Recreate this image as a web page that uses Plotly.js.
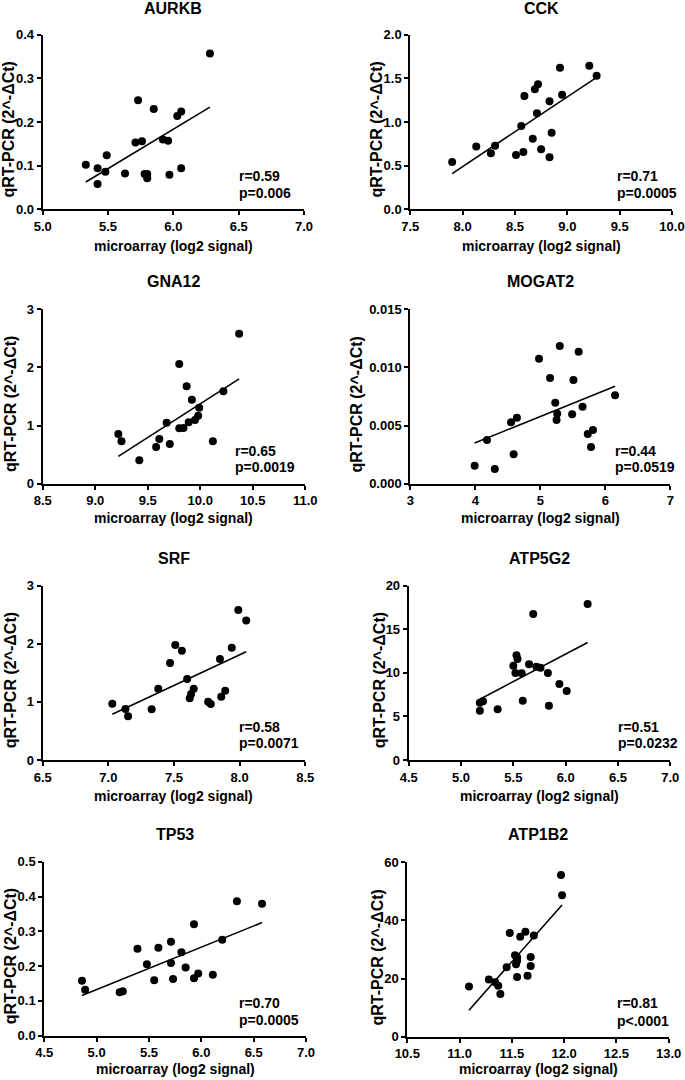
<!DOCTYPE html>
<html>
<head>
<meta charset="utf-8">
<script src="https://cdn.plot.ly/plotly-3.0.1.min.js"></script>
<style>
html,body{margin:0;padding:0;background:#fff;}
#chart{width:685px;height:1080px;}
</style>
</head>
<body>
<div id="chart"></div>
<script>
// ---------------- DATA ----------------
const genes = ['AURKB','CCK','GNA12','MOGAT2','SRF','ATP5G2','TP53','ATP1B2'];
const rLabels = ['r=0.59','r=0.71','r=0.65','r=0.44','r=0.58','r=0.51','r=0.70','r=0.81'];
const pLabels = ['p=0.006','p=0.0005','p=0.0019','p=0.0519','p=0.0071','p=0.0232','p=0.0005','p<.0001'];
const xAxisTitle = 'microarray (log2 signal)';
const yAxisTitle = 'qRT-PCR (2^-\u0394Ct)';

const aurkbX = [5.33,5.42,5.42,5.49,5.48,5.63,5.71,5.73,5.76,5.78,5.80,5.80,5.85,5.92,5.96,5.97,6.03,6.06,6.06,6.28];
const aurkbY = [0.102,0.094,0.058,0.124,0.086,0.082,0.153,0.250,0.156,0.081,0.081,0.071,0.230,0.160,0.157,0.079,0.214,0.224,0.094,0.357];

const cckX = [7.90,8.13,8.27,8.31,8.51,8.56,8.58,8.59,8.67,8.69,8.71,8.72,8.75,8.83,8.83,8.85,8.93,8.95,9.21,9.28];
const cckY = [0.542,0.718,0.641,0.729,0.622,0.954,0.656,1.298,0.809,1.374,1.099,1.431,0.687,0.595,1.237,0.878,1.622,1.313,1.645,1.531];

const gna12X = [9.22,9.25,9.42,9.58,9.61,9.68,9.71,9.80,9.80,9.84,9.87,9.89,9.92,9.95,9.98,9.99,10.12,10.22,10.37];
const gna12Y = [0.855,0.729,0.402,0.631,0.769,1.050,0.683,2.059,0.953,0.958,1.675,1.056,1.445,1.096,1.170,1.307,0.729,1.589,2.580];

const mogat2X = [3.99,4.18,4.30,4.55,4.64,4.59,4.98,5.15,5.23,5.26,5.25,5.30,5.49,5.51,5.59,5.65,5.73,5.81,5.78,6.15];
const mogat2Y = [0.00155,0.00376,0.00126,0.00528,0.00568,0.00253,0.01075,0.00909,0.00697,0.00602,0.00548,0.01184,0.00597,0.00892,0.01135,0.00662,0.00427,0.00462,0.00316,0.00760];

const srfX = [7.03,7.13,7.15,7.33,7.38,7.47,7.51,7.56,7.60,7.62,7.63,7.65,7.76,7.78,7.85,7.86,7.89,7.94,7.99,8.05];
const srfY = [0.969,0.878,0.751,0.872,1.228,1.669,1.979,1.881,1.394,1.061,1.136,1.228,1.004,0.964,1.738,1.090,1.193,1.933,2.581,2.403];

const atp5g2X = [5.18,5.18,5.21,5.35,5.50,5.52,5.53,5.54,5.58,5.59,5.65,5.69,5.72,5.76,5.83,5.84,5.94,6.01,6.21];
const atp5g2Y = [6.58,5.66,6.73,5.81,10.82,9.98,12.01,11.59,9.94,6.81,10.98,16.75,10.71,10.59,9.98,6.23,8.72,7.92,17.90];

const tp53X = [4.86,4.89,5.22,5.25,5.39,5.48,5.55,5.59,5.71,5.71,5.73,5.81,5.85,5.93,5.93,5.97,6.11,6.20,6.34,6.58];
const tp53Y = [0.158,0.132,0.125,0.128,0.250,0.205,0.159,0.253,0.270,0.209,0.163,0.240,0.196,0.320,0.165,0.179,0.175,0.276,0.386,0.379];

const atp1b2X = [11.09,11.28,11.34,11.37,11.39,11.45,11.48,11.53,11.55,11.55,11.54,11.55,11.58,11.63,11.65,11.68,11.68,11.71,11.97,11.98];
const atp1b2Y = [17.3,19.7,18.7,17.5,14.7,23.9,35.7,28.0,27.3,26.1,24.9,20.5,34.4,36.1,21.0,27.4,24.3,34.8,55.6,48.7];

const seriesX = [aurkbX,cckX,gna12X,mogat2X,srfX,atp5g2X,tp53X,atp1b2X];
const seriesY = [aurkbY,cckY,gna12Y,mogat2Y,srfY,atp5g2Y,tp53Y,atp1b2Y];

// axis ranges / tick spacing (scale definitions)
const xRanges = [[5,7],[7.5,10],[8.5,11],[3,7],[6.5,8.5],[4.5,7],[4.5,7],[10.5,13]];
const xDticks = [0.5,0.5,0.5,1,0.5,0.5,0.5,0.5];
const xFormats = ['.1f','.1f','.1f','d','.1f','.1f','.1f','.1f'];
const yRanges = [[0,0.4],[0,2],[0,3],[0,0.015],[0,3],[0,20],[0,0.5],[0,60]];
const yDticks = [0.1,0.5,1,0.005,1,5,0.1,20];
const yFormats = ['.1f','.1f','d','.3f','d','d','.1f','d'];

// ---------------- LAYOUT (pixels) ----------------
const W = 685, H = 1080;
// [left, right, top, bottom] of each plot area
const boxes = [
  [42.7,304,34.7,209.3],[410.3,672,34.7,209.3],
  [42.7,305.3,309.3,483.7],[410.3,670.3,309.3,483.7],
  [42.7,305.3,585.7,760],[408.7,670.3,585.7,760],
  [44.3,306,861.7,1035.7],[407.3,668.7,862.3,1036.7]
];
const titleY = [8.5,8.5,282,282,558.5,558.5,834,834];
const xTitleY = [246,246,518,518,796,796,1069,1069];
const yTitleX = [8.5,376.5,10.5,356,10.5,379.5,10.5,377];
const statPos = [ // left x, r centre y, p centre y
  [237.3,176,193],[615.3,176,193],
  [233.3,451,467.3],[612.7,451.3,467.3],
  [237.3,726.7,743.3],[616,727.3,743.3],
  [237.3,1002.7,1020],[615.3,1003.3,1020.7]
];

const FONT = '"Liberation Sans", Arial, Helvetica, sans-serif';
const fx = px => px / W;
const fy = py => 1 - py / H;

function linfit(xs, ys){
  const n = xs.length;
  let sx=0, sy=0; for(let i=0;i<n;i++){sx+=xs[i]; sy+=ys[i];}
  const mx=sx/n, my=sy/n;
  let sxy=0, sxx=0; for(let i=0;i<n;i++){sxy+=(xs[i]-mx)*(ys[i]-my); sxx+=(xs[i]-mx)*(xs[i]-mx);}
  const b = sxy/sxx, a = my - b*mx;
  const x0 = Math.min(...xs), x1 = Math.max(...xs);
  return {x:[x0,x1], y:[a+b*x0, a+b*x1]};
}

const traces = [];
const layout = {
  width: W, height: H,
  margin: {l:0,r:0,t:0,b:0,pad:0},
  paper_bgcolor: '#ffffff', plot_bgcolor: '#ffffff',
  showlegend: false,
  font: {family: FONT, color: '#000', size: 13},
  annotations: []
};

genes.forEach((g, i) => {
  const k = i === 0 ? '' : String(i+1);
  const xa = 'x'+k, ya = 'y'+k;
  const fit = linfit(seriesX[i], seriesY[i]);
  traces.push({
    type:'scatter', mode:'lines', x: fit.x, y: fit.y, xaxis: xa, yaxis: ya,
    line: {color:'#000', width:1.6}, hoverinfo:'skip'
  });
  traces.push({
    type:'scatter', mode:'markers', x: seriesX[i], y: seriesY[i], xaxis: xa, yaxis: ya,
    name: g, marker: {color:'#000', size:8, line:{width:0}}, cliponaxis:false
  });
  const b = boxes[i];
  const common = {
    showgrid:false, zeroline:false, showline:true, linecolor:'#000', linewidth:2,
    ticks:'outside', ticklen:4, tickwidth:2, tickcolor:'#000',
    tickfont:{family:FONT, size:13, color:'#000', weight:700}, fixedrange:true
  };
  layout['xaxis'+k] = Object.assign({}, common, {
    domain:[fx(b[0]), fx(b[1])], anchor: ya, range: xRanges[i],
    tick0: xRanges[i][0], dtick: xDticks[i], tickformat: xFormats[i]
  });
  layout['yaxis'+k] = Object.assign({}, common, {
    domain:[fy(b[3]), fy(b[2])], anchor: xa, range: yRanges[i],
    tick0: 0, dtick: yDticks[i], tickformat: yFormats[i]
  });
  const cx = (b[0]+b[1])/2, cy = (b[2]+b[3])/2;
  const ann = layout.annotations;
  ann.push({text:g, xref:'paper', yref:'paper', x:fx(cx), y:fy(titleY[i]), xanchor:'center', yanchor:'middle',
    showarrow:false, font:{family:FONT, size:16, color:'#000', weight:700}});
  ann.push({text:xAxisTitle, xref:'paper', yref:'paper', x:fx(cx), y:fy(xTitleY[i]), xanchor:'center', yanchor:'middle',
    showarrow:false, font:{family:FONT, size:14, color:'#000', weight:700}});
  ann.push({text:yAxisTitle, xref:'paper', yref:'paper', x:fx(yTitleX[i]), y:fy(cy+8), xanchor:'center', yanchor:'middle',
    textangle:-90, showarrow:false, font:{family:FONT, size:16, color:'#000', weight:700}});
  ann.push({text:rLabels[i], xref:'paper', yref:'paper', x:fx(statPos[i][0]), y:fy(statPos[i][1]), xanchor:'left', yanchor:'middle',
    showarrow:false, font:{family:FONT, size:14, color:'#000', weight:700}});
  ann.push({text:pLabels[i], xref:'paper', yref:'paper', x:fx(statPos[i][0]), y:fy(statPos[i][2]), xanchor:'left', yanchor:'middle',
    showarrow:false, font:{family:FONT, size:14, color:'#000', weight:700}});
});

Plotly.newPlot('chart', traces, layout, {staticPlot:true, displayModeBar:false});
</script>
</body>
</html>
